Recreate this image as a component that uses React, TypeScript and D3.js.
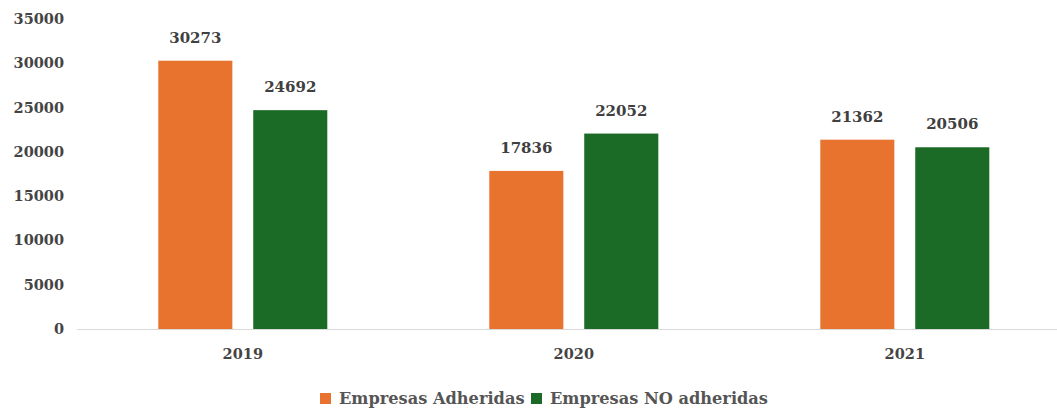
import * as d3 from "d3";
import React, { useRef, useEffect } from "react";

const years = ["2019", "2020", "2021"];
const seriesNames = ["Empresas Adheridas", "Empresas NO adheridas"];
const adheridas = [30273, 17836, 21362];
const noAdheridas = [24692, 22052, 20506];
const yTicks = [0, 5000, 10000, 15000, 20000, 25000, 30000, 35000];
const colors = ["#E8732F", "#1B6B27"];

const width = 1057;
const height = 411;
const font = "'DejaVu Serif', serif";

export default function App() {
  const ref = useRef(null);

  useEffect(() => {
    const svg = d3.select(ref.current);
    svg.selectAll("*").remove();

    const y = d3.scaleLinear().domain([0, 35000]).range([329, 18.8]);
    const x = d3.scaleBand().domain(years).range([77.3, 1070.3]);
    const inner = d3
      .scaleBand()
      .domain(seriesNames)
      .range([-84.5, 84.5])
      .paddingInner(0.22)
      .paddingOuter(0);

    // Y labels
    svg
      .append("g")
      .selectAll("text")
      .data(yTicks)
      .join("text")
      .attr("x", 64)
      .attr("y", (d) => y(d))
      .attr("dy", "0.35em")
      .attr("text-anchor", "end")
      .style("font-family", font)
      .style("font-weight", "bold")
      .style("font-size", "14.5px")
      .attr("fill", "#444")
      .text((d) => d);

    // baseline
    svg
      .append("line")
      .attr("x1", 77.3)
      .attr("x2", width)
      .attr("y1", y(0) + 0.5)
      .attr("y2", y(0) + 0.5)
      .attr("stroke", "#d9d9d9")
      .attr("stroke-width", 1);

    const rows = years.map((yr, i) => ({
      year: yr,
      vals: [adheridas[i], noAdheridas[i]],
    }));

    const groups = svg
      .append("g")
      .selectAll("g")
      .data(rows)
      .join("g")
      .attr("transform", (d) => `translate(${x(d.year)! + x.bandwidth() / 2},0)`);

    groups
      .selectAll("rect")
      .data((d) => d.vals.map((v, j) => ({ v, name: seriesNames[j], j })))
      .join("rect")
      .attr("x", (d) => inner(d.name)!)
      .attr("y", (d) => y(d.v))
      .attr("width", inner.bandwidth())
      .attr("height", (d) => y(0) - y(d.v))
      .attr("fill", (d) => colors[d.j]);

    // value labels
    groups
      .selectAll("text.val")
      .data((d) => d.vals.map((v, j) => ({ v, name: seriesNames[j] })))
      .join("text")
      .attr("class", "val")
      .attr("x", (d) => inner(d.name)! + inner.bandwidth() / 2)
      .attr("y", (d) => y(d.v) - 18)
      .attr("text-anchor", "middle")
      .style("font-family", font)
      .style("font-weight", "bold")
      .style("font-size", "15px")
      .attr("fill", "#404040")
      .text((d) => d.v);

    // X labels
    svg
      .append("g")
      .selectAll("text")
      .data(years)
      .join("text")
      .attr("x", (d) => x(d)! + x.bandwidth() / 2)
      .attr("y", 354)
      .attr("dy", "0.35em")
      .attr("text-anchor", "middle")
      .style("font-family", font)
      .style("font-weight", "bold")
      .style("font-size", "14.5px")
      .attr("fill", "#444")
      .text((d) => d);

    // Legend
    const legendX = [320, 531];
    const leg = svg
      .append("g")
      .selectAll("g")
      .data(seriesNames)
      .join("g")
      .attr("transform", (d, i) => `translate(${legendX[i]},393)`);
    leg
      .append("rect")
      .attr("width", 11)
      .attr("height", 11)
      .attr("fill", (d, i) => colors[i]);
    leg
      .append("text")
      .attr("x", 19)
      .attr("y", 5.5)
      .attr("dy", "0.35em")
      .style("font-family", font)
      .style("font-weight", "bold")
      .style("font-size", "16.2px")
      .attr("fill", "#555")
      .text((d) => d);
  }, []);

  return (
    <svg
      ref={ref}
      width={width}
      height={height}
      style={{ position: "absolute", left: 0, top: 0, background: "#fff" }}
    />
  );
}
